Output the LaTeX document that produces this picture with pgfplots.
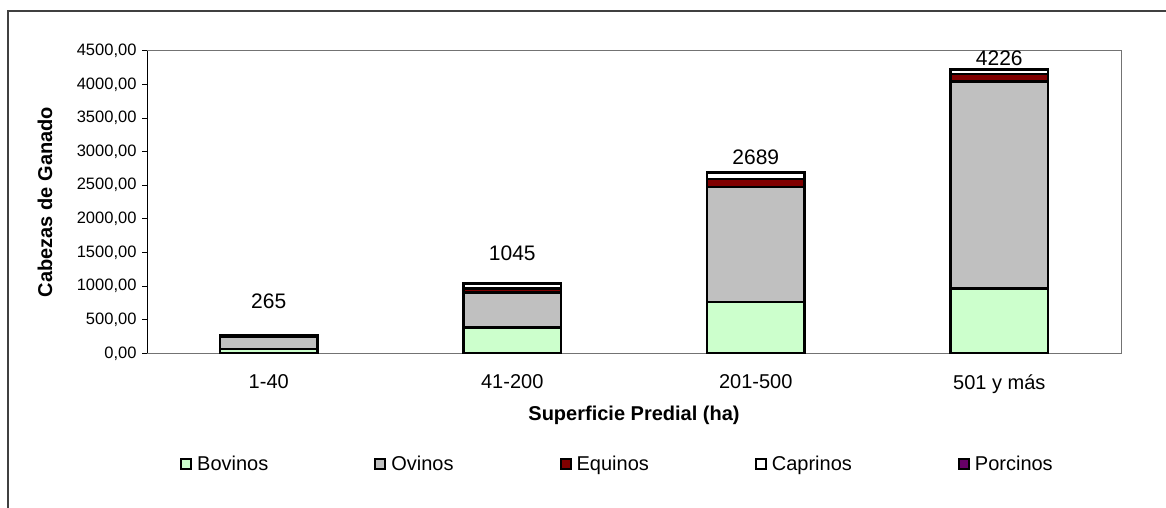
\documentclass[border=0pt]{standalone}
\usepackage{pgfplots}
\pgfplotsset{compat=1.18}
\usepackage{pgfplotstable}
\usepackage{fontspec}
\setmainfont{Liberation Sans}
\definecolor{bov}{HTML}{CCFFCC}
\definecolor{ovi}{HTML}{C0C0C0}
\definecolor{equ}{HTML}{800000}
\definecolor{cap}{HTML}{FFFFFF}
\definecolor{por}{HTML}{660066}
\pgfplotstableread{
x bov ovi equ cap por
0 62 190 8 5 0
1 385 520 60 75 5
2 765 1710 115 95 4
3 960 3080 110 60 16
}\datatable
\pgfplotstableread{
x pos lab
0 770 265
1 1490 1045
2 2910 2689
3 4385 4226
}\labtable
\begin{document}
\begin{tikzpicture}
\useasboundingbox (0pt,0pt) rectangle (1166pt,508pt);
\draw[line width=1.5pt, black!75] (8pt,0pt) -- (8pt,497pt) -- (1166pt,497pt);
\begin{axis}[
  at={(147pt,154.7pt)}, anchor=south west,
  scale only axis, width=974pt, height=302.6pt,
  ybar stacked, bar width=0.4,
  xmin=-0.5, xmax=3.5, ymin=0, ymax=4500,
  xtick={0,1,2,3},
  xticklabels={1-40, 41-200, 201-500, 501 y más},
  x tick style={draw=none},
  ytick={0,500,...,4500},
  tick align=outside, major tick length=5pt,
  ytick pos=left,
  y tick style={black, line width=0.8pt},
  axis line style={draw=black!55, line width=0.8pt},
  yticklabel style={font=\fontsize{16.5}{19}\selectfont, xshift=-2pt},
  xticklabel style={font=\fontsize{20}{24}\selectfont, yshift=-13pt},
  /pgf/number format/.cd, fixed, fixed zerofill, precision=2, use comma, 1000 sep={}, assume math mode=true,
  /pgfplots/.cd,
  scaled y ticks=false,
  xlabel={\textbf{Superficie Predial (ha)}},
  ylabel={\textbf{Cabezas de Ganado}},
  xlabel style={font=\fontsize{20}{24}\selectfont, at={(axis description cs:0.5,0)}, anchor=center, yshift=-62pt},
  ylabel style={font=\fontsize{20}{24}\selectfont, at={(axis description cs:-0.1047,0.5)}, anchor=center},
  legend columns=5,
  legend style={at={(0.0339,-0.366)}, anchor=west, draw=none, fill=none, inner sep=0pt,
    font=\fontsize{20}{24}\selectfont,
    /tikz/every even column/.append style={column sep=104pt},
    /tikz/every odd column/.append style={column sep=3pt}},
  legend image code/.code={\draw[#1, draw=black, line width=2pt] (0pt,-5pt) rectangle (10pt,5pt);},
]
\addplot[fill=bov, draw=black, line width=2.5pt] table[x=x, y=bov] {\datatable};
\addplot[fill=ovi, draw=black, line width=2.5pt] table[x=x, y=ovi] {\datatable};
\addplot[fill=equ, draw=black, line width=2.5pt] table[x=x, y=equ] {\datatable};
\addplot[fill=cap, draw=black, line width=2.5pt] table[x=x, y=cap] {\datatable};
\addplot[fill=por, draw=black, line width=2.5pt] table[x=x, y=por] {\datatable};
\legend{Bovinos, Ovinos, Equinos, Caprinos, Porcinos}
\draw[black, line width=0.8pt] (rel axis cs:0,0) -- (rel axis cs:0,1);
\end{axis}
\begin{axis}[
  at={(147pt,154.7pt)}, anchor=south west,
  scale only axis, width=974pt, height=302.6pt,
  xmin=-0.5, xmax=3.5, ymin=0, ymax=4500,
  hide axis,
]
\addplot[draw=none, mark=none, nodes near coords, point meta=explicit symbolic,
  every node near coord/.append style={anchor=center, font=\fontsize{21}{25}\selectfont}]
  table[x=x, y=pos, meta=lab] {\labtable};
\end{axis}
\end{tikzpicture}
\end{document}
